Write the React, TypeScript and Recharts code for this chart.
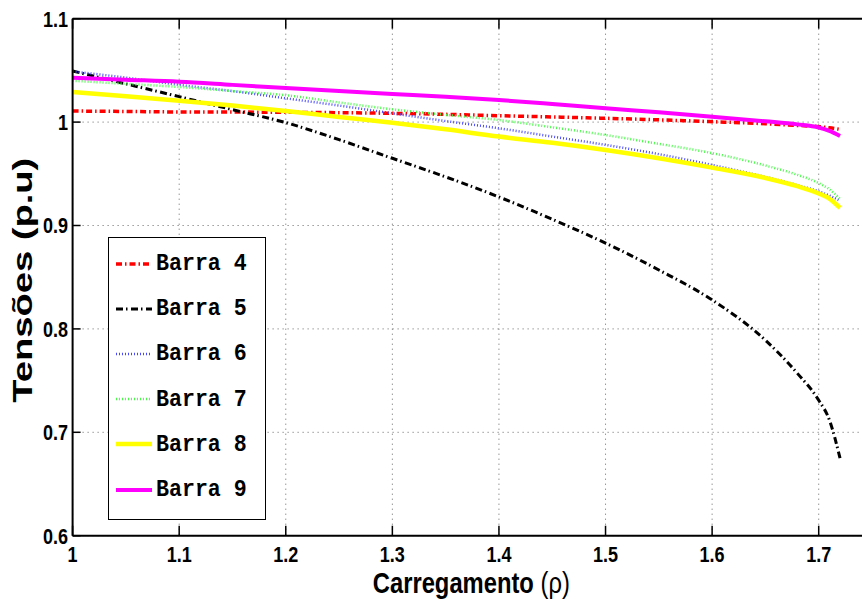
import { LineChart, Line, XAxis, YAxis, CartesianGrid, Legend, Label } from 'recharts';

// carregamento (rho) samples shared by all buses
const rho = [1.0, 1.05, 1.1, 1.15, 1.2, 1.25, 1.3, 1.35, 1.4, 1.45, 1.5, 1.55, 1.6, 1.65, 1.68, 1.7, 1.71, 1.72];

const barra4 = [1.0107, 1.0103, 1.0098, 1.0097, 1.0095, 1.0091, 1.0085, 1.0075, 1.0062, 1.005, 1.0037, 1.0022, 1.0004, 0.9984, 0.9968, 0.9956, 0.9945, 0.993];
const barra5 = [1.0494, 1.037, 1.0246, 1.012, 0.9995, 0.983, 0.965, 0.947, 0.9276, 0.906, 0.883, 0.857, 0.828, 0.789, 0.757, 0.731, 0.712, 0.675];
const barra6 = [1.049, 1.043, 1.036, 1.03, 1.023, 1.016, 1.0085, 1.001, 0.994, 0.986, 0.978, 0.969, 0.9585, 0.947, 0.939, 0.933, 0.929, 0.924];
const barra7 = [1.04, 1.037, 1.034, 1.03, 1.026, 1.019, 1.0124, 1.007, 1.002, 0.995, 0.9875, 0.979, 0.97, 0.958, 0.949, 0.941, 0.935, 0.926];
const barra8 = [1.029, 1.025, 1.0207, 1.016, 1.0107, 1.005, 0.9994, 0.993, 0.986, 0.98, 0.973, 0.965, 0.956, 0.946, 0.938, 0.931, 0.926, 0.917];
const barra9 = [1.043, 1.041, 1.039, 1.036, 1.033, 1.03, 1.0272, 1.0245, 1.0214, 1.0175, 1.0133, 1.0095, 1.0052, 1.0008, 0.9978, 0.9948, 0.9915, 0.9866];

const xTicks = [1, 1.1, 1.2, 1.3, 1.4, 1.5, 1.6, 1.7];
const yTicks = [0.6, 0.7, 0.8, 0.9, 1, 1.1];

const SERIES = [
  { key: 'b4', name: 'Barra 4', color: '#ff0000', width: 3.5, dash: '6 3 1.5 3' },
  { key: 'b5', name: 'Barra 5', color: '#000000', width: 3, dash: '7 3 1.5 3.5' },
  { key: 'b6', name: 'Barra 6', color: '#4848ff', width: 2.5, dash: '1 2' },
  { key: 'b7', name: 'Barra 7', color: '#44ff44', width: 2.5, dash: '1 2' },
  { key: 'b8', name: 'Barra 8', color: '#ffff00', width: 4.5, dash: undefined },
  { key: 'b9', name: 'Barra 9', color: '#ff00ff', width: 4, dash: undefined },
];

const data = rho.map((r, i) => ({
  rho: r,
  b4: barra4[i],
  b5: barra5[i],
  b6: barra6[i],
  b7: barra7[i],
  b8: barra8[i],
  b9: barra9[i],
}));

const SANS = "'Liberation Sans', Arial, sans-serif";
const NARROW_X = 0.82; // condensed look of the original axis fonts
const fmt = (v: number) => String(Number(v.toFixed(1)));

const BottomTick = (props: any) => {
  const { x, y, payload } = props;
  return (
    <g>
      <line x1={x} x2={x} y1={y - 26} y2={y - 36} stroke="#000" strokeWidth={1.5} />
      <text
        transform={`translate(${x},${y}) scale(${NARROW_X},1)`}
        textAnchor="middle"
        fontFamily={SANS}
        fontWeight="bold"
        fontSize={22}
        fill="#000"
      >
        {fmt(payload.value)}
      </text>
    </g>
  );
};

const TopTick = (props: any) => {
  const { x, y } = props;
  return <line x1={x} x2={x} y1={y} y2={y + 10} stroke="#000" strokeWidth={1.5} />;
};

const LeftTick = (props: any) => {
  const { x, y, payload } = props;
  return (
    <g>
      <line x1={x + 4.6} x2={x + 12.6} y1={y} y2={y} stroke="#000" strokeWidth={1.5} />
      <text
        transform={`translate(${x},${y}) scale(${NARROW_X},1)`}
        dy="0.36em"
        textAnchor="end"
        fontFamily={SANS}
        fontWeight="bold"
        fontSize={22}
        fill="#000"
      >
        {fmt(payload.value)}
      </text>
    </g>
  );
};

const XTitle = (props: any) => {
  const vb = props.viewBox;
  const x = vb.x + vb.width / 2 - 1;
  const y = vb.y + 57.5;
  return (
    <text
      transform={`translate(${x},${y}) scale(${NARROW_X},1)`}
      textAnchor="middle"
      fontFamily={SANS}
      fontWeight="bold"
      fontSize={29}
      fill="#000"
    >
      Carregamento <tspan fontWeight="normal">(ρ)</tspan>
    </text>
  );
};

const YTitle = (props: any) => {
  const vb = props.viewBox;
  const x = vb.x + 32;
  const y = vb.y + vb.height / 2 + 3;
  return (
    <text
      x={x}
      y={y}
      transform={`rotate(-90 ${x} ${y})`}
      textAnchor="middle"
      fontFamily={SANS}
      fontWeight="bold"
      fontSize={28}
      textLength={245}
      lengthAdjust="spacingAndGlyphs"
      fill="#000"
    >
      Tensões (p.u)
    </text>
  );
};

const LegendBox = (props: any) => {
  const payload = props.payload || [];
  return (
    <div
      style={{
        border: '1px solid #000',
        background: '#fff',
        width: 156,
        height: 275,
        padding: '3px 0',
        boxSizing: 'content-box',
      }}
    >
      {payload.map((entry: any) => {
        const s = SERIES.find((d) => d.key === entry.dataKey) || SERIES[0];
        return (
          <div key={s.key} style={{ height: 45.2, display: 'flex', alignItems: 'center' }}>
            <svg width={47} height={12} style={{ display: 'block' }}>
              <line x1={7} x2={43} y1={6} y2={6} stroke={s.color} strokeWidth={s.width} strokeDasharray={s.dash} />
            </svg>
            <span
              style={{
                display: 'inline-block',
                fontFamily: "'Liberation Mono', 'Courier New', monospace",
                fontWeight: 'bold',
                fontSize: 24,
                color: '#000',
                whiteSpace: 'pre',
                transform: 'scale(0.9,1)',
                transformOrigin: 'left center',
              }}
            >
              {s.name}
            </span>
          </div>
        );
      })}
    </div>
  );
};

export default function App() {
  return (
    <div
      style={{
        position: 'absolute',
        left: 0,
        top: 0,
        width: 862,
        height: 605,
        overflow: 'hidden',
        background: '#fff',
      }}
    >
      <LineChart width={900} height={605} data={data} margin={{ top: 0, right: 28, bottom: 0, left: 0 }}>
        <CartesianGrid stroke="#666" strokeDasharray="1 4" />
        <XAxis
          dataKey="rho"
          type="number"
          domain={[1, 1.75]}
          ticks={xTicks}
          interval={0}
          allowDataOverflow
          height={69.3}
          tickSize={0}
          tickMargin={26}
          tickLine={false}
          tick={<BottomTick />}
          axisLine={{ stroke: '#000', strokeWidth: 2 }}
        >
          <Label content={<XTitle />} />
        </XAxis>
        <XAxis
          xAxisId="top"
          orientation="top"
          dataKey="rho"
          type="number"
          domain={[1, 1.75]}
          ticks={xTicks}
          interval={0}
          allowDataOverflow
          height={18.7}
          tickSize={0}
          tickMargin={0}
          tickLine={false}
          tick={<TopTick />}
          axisLine={{ stroke: '#000', strokeWidth: 2 }}
        />
        <YAxis
          type="number"
          domain={[0.6, 1.1]}
          ticks={yTicks}
          interval={0}
          allowDataOverflow
          width={72.6}
          tickSize={0}
          tickMargin={4.6}
          tickLine={false}
          tick={<LeftTick />}
          axisLine={{ stroke: '#000', strokeWidth: 2 }}
        >
          <Label content={<YTitle />} />
        </YAxis>
        <Legend
          layout="vertical"
          align="center"
          verticalAlign="middle"
          content={<LegendBox />}
          wrapperStyle={{ left: 108, top: 237, width: 158, height: 283 }}
        />
        {SERIES.map((s) => (
          <Line
            key={s.key}
            type="monotone"
            dataKey={s.key}
            name={s.name}
            stroke={s.color}
            strokeWidth={s.width}
            strokeDasharray={s.dash}
            dot={false}
            activeDot={false}
            isAnimationActive={false}
          />
        ))}
      </LineChart>
    </div>
  );
}
